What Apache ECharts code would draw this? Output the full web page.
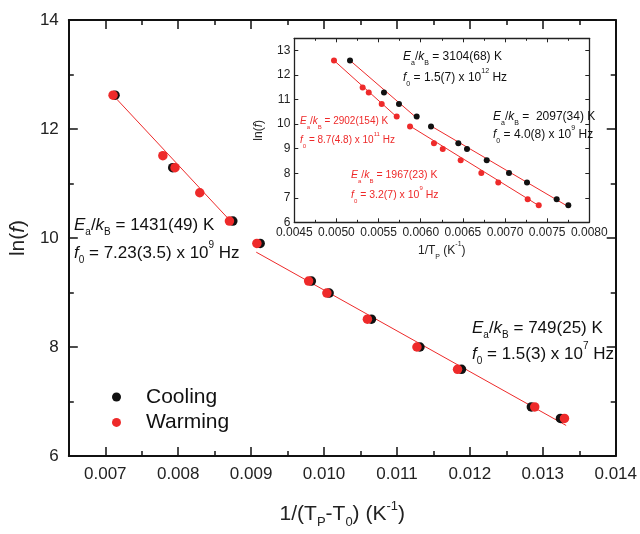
<!DOCTYPE html>
<html>
<head>
<meta charset="utf-8">
<script src="https://cdn.jsdelivr.net/npm/echarts@6/dist/echarts.min.js"></script>
<style>
html, body { margin: 0; padding: 0; background: #fff; }
#container { width: 640px; height: 534px; }
</style>
</head>
<body>
<div id="container"></div>
<script>
// main plot: ln(f) vs 1/(Tp - T0)
var coolX = [0.007134, 0.007925, 0.008749, 0.009124, 0.009826, 0.010070, 0.010650, 0.011315, 0.011885, 0.012843, 0.013242];
var coolY = [12.62, 11.29, 10.31, 9.90, 9.21, 8.99, 8.51, 8.00, 7.59, 6.90, 6.69];
var warmX = [0.007107, 0.007790, 0.007956, 0.008296, 0.008703, 0.009079, 0.009789, 0.010039, 0.010595, 0.011274, 0.011831, 0.012889, 0.013297];
var warmY = [12.62, 11.51, 11.29, 10.83, 10.31, 9.90, 9.21, 8.99, 8.51, 8.00, 7.59, 6.90, 6.69];
var fitLowX = [0.00710, 0.00876], fitLowY = [12.63, 10.25];
var fitHighX = [0.00907, 0.01332], fitHighY = [9.74, 6.56];

// inset: ln(f) vs 1/Tp
var inCoolX = [0.005161, 0.005564, 0.005742, 0.005952, 0.006122, 0.006446, 0.006549, 0.006783, 0.007047, 0.007261, 0.007613, 0.007751];
var inCoolY = [12.60, 11.29, 10.82, 10.31, 9.90, 9.22, 8.99, 8.53, 8.01, 7.62, 6.94, 6.69];
var inWarmX = [0.004971, 0.005311, 0.005383, 0.005537, 0.005715, 0.005873, 0.006157, 0.006261, 0.006474, 0.006719, 0.006920, 0.007269, 0.007400];
var inWarmY = [12.60, 11.49, 11.29, 10.82, 10.31, 9.90, 9.22, 8.99, 8.53, 8.01, 7.62, 6.94, 6.69];
var inFitC1X = [0.00516, 0.00597], inFitC1Y = [12.60, 10.20];
var inFitC2X = [0.00612, 0.00776], inFitC2Y = [9.93, 6.62];
var inFitW1X = [0.00497, 0.00574], inFitW1Y = [12.60, 10.22];
var inFitW2X = [0.00587, 0.00741], inFitW2Y = [9.93, 6.66];

// tick labels
var xMajor = [0.007, 0.008, 0.009, 0.010, 0.011, 0.012, 0.013, 0.014];
var xMinor = [0.0075, 0.0085, 0.0095, 0.0105, 0.0115, 0.0125, 0.0135];

var FONT = '"Liberation Sans", Arial, sans-serif';
var RED = '#ee2a2a', BLACK = '#111';

function zip(xs, ys) {
  var out = [];
  for (var i = 0; i < xs.length; i++) out.push([xs[i], ys[i]]);
  return out;
}

// rich styles for echarts text (color) and zrender graphic text (fill)
function richAxis(size) {
  var s = Math.round(size * 0.6);
  return {
    n: { fontSize: size, lineHeight: size + 8, fontFamily: FONT, color: '#222' },
    i: { fontSize: size, lineHeight: size + 8, fontFamily: FONT, fontStyle: 'italic', color: '#222' },
    sub: { fontSize: s, lineHeight: s, fontFamily: FONT, verticalAlign: 'bottom', color: '#222' },
    sup: { fontSize: s, lineHeight: s, fontFamily: FONT, verticalAlign: 'top', color: '#222' }
  };
}
function richText(size, color) {
  var s = Math.round(size * 0.6);
  return {
    n: { fontSize: size, lineHeight: size + 8, fontFamily: FONT, fill: color },
    i: { fontSize: size, lineHeight: size + 8, fontFamily: FONT, fontStyle: 'italic', fill: color },
    sub: { fontSize: s, lineHeight: s, fontFamily: FONT, verticalAlign: 'bottom', fill: color },
    sup: { fontSize: s, lineHeight: s, fontFamily: FONT, verticalAlign: 'top', fill: color }
  };
}
function note(x, y, text, size, color) {
  return {
    type: 'text', x: x, y: y, z: 100,
    style: { text: text, rich: richText(size, color), fontSize: size, fontFamily: FONT,
             fill: color, align: 'left', verticalAlign: 'middle' }
  };
}
function eaLine(v) { return '{i|E}{sub|a}{n|/}{i|k}{sub|B}{n|' + v + '}'; }
function f0Line(v, p) { return '{i|f}{sub|0}{n| = ' + v + ' x 10}{sup|' + p + '}{n| Hz}'; }

function fitSeries(xs, ys, xi, yi) {
  return {
    type: 'line', xAxisIndex: xi, yAxisIndex: yi, data: zip(xs, ys),
    symbol: 'none', silent: true, z: 2,
    lineStyle: { color: RED, width: 1 }
  };
}

var lineMain = { show: true, lineStyle: { color: '#111', width: 2 } };
var lineInset = { show: true, lineStyle: { color: '#222', width: 1.3 } };

var dom = document.getElementById('container');
var myChart = echarts.init(dom, null, { renderer: 'canvas' });
var option = {
  animation: false,
  backgroundColor: '#fff',
  textStyle: { fontFamily: FONT },
  grid: [
    { left: 66, top: 20, width: 552.7, height: 444 },
    { left: 294.3, top: 38.3, width: 295, height: 184, show: true, backgroundColor: '#fff', borderWidth: 0 }
  ],
  legend: {
    data: ['Cooling', 'Warming'],
    orient: 'vertical', left: 107, top: 381.5,
    icon: 'circle', itemWidth: 9, itemHeight: 9, itemGap: 4.4,
    textStyle: { fontSize: 21, lineHeight: 21, color: '#111', fontFamily: FONT, padding: [0, 0, 0, 20] }
  },
  xAxis: [
    { // main bottom, major
      type: 'value', gridIndex: 0, position: 'bottom', min: 0.0065, max: 0.014,
      axisLine: lineMain, splitLine: { show: false },
      axisTick: { inside: true, length: 9, customValues: xMajor, lineStyle: { color: '#111', width: 1.5 } },
      axisLabel: { customValues: xMajor, fontSize: 17, color: '#222', margin: 10, fontFamily: FONT,
                   formatter: function (v) { return v.toFixed(3); } },
      name: '{n|1/(T}{sub|P}{n|-T}{sub|0}{n|) (K}{sup|-1}{n|)}',
      nameLocation: 'middle', nameGap: 44,
      nameTextStyle: { rich: richAxis(21) }
    },
    { // main bottom, minor
      type: 'value', gridIndex: 0, position: 'bottom', min: 0.0065, max: 0.014,
      axisLine: { show: false }, splitLine: { show: false }, axisLabel: { show: false },
      axisTick: { inside: true, length: 5, customValues: xMinor, lineStyle: { color: '#111', width: 1.5 } }
    },
    { // main top, major
      type: 'value', gridIndex: 0, position: 'top', min: 0.0065, max: 0.014,
      axisLine: lineMain, splitLine: { show: false }, axisLabel: { show: false },
      axisTick: { inside: true, length: 9, customValues: xMajor, lineStyle: { color: '#111', width: 1.5 } }
    },
    { // main top, minor
      type: 'value', gridIndex: 0, position: 'top', min: 0.0065, max: 0.014,
      axisLine: { show: false }, splitLine: { show: false }, axisLabel: { show: false },
      axisTick: { inside: true, length: 5, customValues: xMinor, lineStyle: { color: '#111', width: 1.5 } }
    },
    { // inset bottom
      type: 'value', gridIndex: 1, position: 'bottom', min: 0.0045, max: 0.008, interval: 0.0005,
      axisLine: lineInset, splitLine: { show: false },
      axisTick: { inside: true, length: 4, lineStyle: { color: '#222' } },
      minorTick: { show: true, splitNumber: 2, length: 2.5, lineStyle: { color: '#222' } },
      axisLabel: { fontSize: 12, color: '#222', margin: 4, fontFamily: FONT,
                   formatter: function (v) { return v.toFixed(4); } },
      name: '{n|1/T}{sub|P}{n| (K}{sup|-1}{n|)}',
      nameLocation: 'middle', nameGap: 18,
      nameTextStyle: { rich: richAxis(12) }
    },
    { // inset top
      type: 'value', gridIndex: 1, position: 'top', min: 0.0045, max: 0.008, interval: 0.0005,
      axisLine: lineInset, splitLine: { show: false }, axisLabel: { show: false },
      axisTick: { inside: true, length: 4, lineStyle: { color: '#222' } },
      minorTick: { show: true, splitNumber: 2, length: 2.5, lineStyle: { color: '#222' } }
    }
  ],
  yAxis: [
    { // main left
      type: 'value', gridIndex: 0, position: 'left', min: 6, max: 14, interval: 2,
      axisLine: lineMain, splitLine: { show: false },
      axisTick: { inside: true, length: 9, lineStyle: { color: '#111', width: 1.5 } },
      minorTick: { show: true, splitNumber: 2, length: 5, lineStyle: { color: '#111', width: 1.5 } },
      axisLabel: { fontSize: 17, color: '#222', margin: 10, fontFamily: FONT },
      name: '{n|ln(}{i|f}{n|)}', nameLocation: 'middle', nameGap: 29,
      nameTextStyle: { rich: richAxis(21) }
    },
    { // main right
      type: 'value', gridIndex: 0, position: 'right', min: 6, max: 14, interval: 2,
      axisLine: lineMain, splitLine: { show: false }, axisLabel: { show: false },
      axisTick: { inside: true, length: 9, lineStyle: { color: '#111', width: 1.5 } },
      minorTick: { show: true, splitNumber: 2, length: 5, lineStyle: { color: '#111', width: 1.5 } }
    },
    { // inset left
      type: 'value', gridIndex: 1, position: 'left', min: 6, max: 13.5, interval: 1,
      axisLine: lineInset, splitLine: { show: false },
      axisTick: { inside: true, length: 4, lineStyle: { color: '#222' } },
      axisLabel: { fontSize: 12, color: '#222', margin: 4, fontFamily: FONT, showMaxLabel: false },
      name: '{n|ln(}{i|f}{n|)}', nameLocation: 'middle', nameGap: 26,
      nameTextStyle: { rich: richAxis(12) }
    },
    { // inset right
      type: 'value', gridIndex: 1, position: 'right', min: 6, max: 13.5, interval: 1,
      axisLine: lineInset, splitLine: { show: false }, axisLabel: { show: false },
      axisTick: { inside: true, length: 4, lineStyle: { color: '#222' } }
    }
  ],
  series: [
    fitSeries(fitLowX, fitLowY, 0, 0),
    fitSeries(fitHighX, fitHighY, 0, 0),
    { name: 'Cooling', type: 'scatter', xAxisIndex: 0, yAxisIndex: 0, data: zip(coolX, coolY),
      symbolSize: 9.5, itemStyle: { color: BLACK, opacity: 1 }, z: 3 },
    { name: 'Warming', type: 'scatter', xAxisIndex: 0, yAxisIndex: 0, data: zip(warmX, warmY),
      symbolSize: 9.5, itemStyle: { color: RED, opacity: 1 }, z: 4 },
    fitSeries(inFitC1X, inFitC1Y, 4, 2),
    fitSeries(inFitC2X, inFitC2Y, 4, 2),
    fitSeries(inFitW1X, inFitW1Y, 4, 2),
    fitSeries(inFitW2X, inFitW2Y, 4, 2),
    { name: 'Cooling', type: 'scatter', xAxisIndex: 4, yAxisIndex: 2, data: zip(inCoolX, inCoolY),
      symbolSize: 6, itemStyle: { color: BLACK, opacity: 1 }, z: 3 },
    { name: 'Warming', type: 'scatter', xAxisIndex: 4, yAxisIndex: 2, data: zip(inWarmX, inWarmY),
      symbolSize: 6, itemStyle: { color: RED, opacity: 1 }, z: 4 }
  ],
  graphic: [
    note(74, 225, eaLine(' = 1431(49) K'), 17, '#111'),
    note(74, 253, f0Line('7.23(3.5)', '9'), 17, '#111'),
    note(472, 328, eaLine(' = 749(25) K'), 17, '#111'),
    note(472, 354, f0Line('1.5(3)', '7'), 17, '#111'),
    note(403, 57, eaLine(' = 3104(68) K'), 12, '#111'),
    note(403, 78, f0Line('1.5(7)', '12'), 12, '#111'),
    note(493, 117, eaLine(' =  2097(34) K'), 12, '#111'),
    note(493, 135, f0Line('4.0(8)', '9'), 12, '#111'),
    note(300, 121, eaLine(' = 2902(154) K'), 10, RED),
    note(300, 140, f0Line('8.7(4.8)', '11'), 10, RED),
    note(351, 175, eaLine(' = 1967(23) K'), 10.5, RED),
    note(351, 195, f0Line('3.2(7)', '9'), 10.5, RED)
  ]
};
if (option && typeof option === 'object') {
  myChart.setOption(option, true);
}
</script>
</body>
</html>
